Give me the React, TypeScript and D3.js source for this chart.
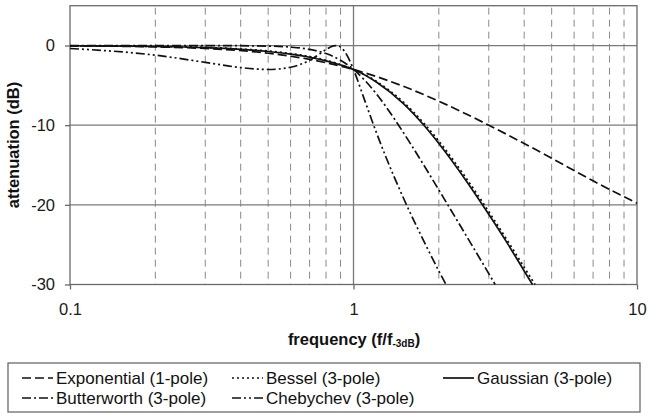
import {useEffect, useRef} from 'react';
import * as d3 from 'd3';

// values (attenuation in dB vs f/f-3dB)
const expFreq = [0.1, 0.2, 0.3, 0.5, 0.7, 1, 1.5, 2, 3, 4, 5, 7, 10];
const expDb = [-0.04, -0.17, -0.37, -0.97, -1.74, -3.01, -5.12, -6.99, -10.0, -12.3, -14.15, -16.99, -19.8];

const besselFreq = [0.1, 0.2, 0.3, 0.4, 0.5, 0.6, 0.7, 0.8, 0.9, 1, 1.2, 1.5, 1.79, 2, 2.5, 2.9, 3.5, 4, 4.37];
const besselDb = [-0.03, -0.11, -0.24, -0.44, -0.69, -1.01, -1.39, -1.85, -2.39, -3.01, -4.47, -7.12, -9.94, -12.0, -16.68, -20.06, -24.56, -27.85, -30];

const gaussFreq = [0.1, 0.2, 0.3, 0.4, 0.5, 0.6, 0.7, 0.8, 0.9, 1, 1.2, 1.5, 1.79, 2, 2.5, 2.9, 3.5, 4, 4.28];
const gaussDb = [-0.03, -0.12, -0.27, -0.48, -0.75, -1.08, -1.47, -1.93, -2.44, -3.01, -4.55, -7.3, -10.2, -12.3, -17.0, -20.4, -24.9, -28.3, -30];

const butterFreq = [0.1, 0.3, 0.5, 0.6, 0.7, 0.8, 0.9, 1, 1.1, 1.2, 1.4, 1.6, 1.8, 2, 2.5, 3, 3.16];
const butterDb = [0, -0.003, -0.07, -0.2, -0.48, -1.01, -1.85, -3.01, -4.43, -6.0, -9.31, -12.5, -15.44, -18.13, -23.89, -28.63, -30];

const chebyFreq = [0.1, 0.2, 0.3, 0.4, 0.5, 0.6, 0.7, 0.75, 0.8, 0.85, 0.866, 0.9, 0.95, 1, 1.1, 1.2, 1.3, 1.5, 1.8, 2, 2.12];
const chebyDb = [-0.37, -1.21, -2.11, -2.77, -3.01, -2.73, -1.85, -1.19, -0.51, -0.04, 0, -0.2, -1.26, -3.01, -7.07, -10.78, -13.96, -19.14, -25.08, -28.31, -30];

const yTicks = [0, -10, -20, -30];
const xTicks = [0.1, 1, 10];
const minorX = [0.2, 0.3, 0.4, 0.5, 0.6, 0.7, 0.8, 0.9, 2, 3, 4, 5, 6, 7, 8, 9];

const series = [
    {name: 'Exponential (1-pole)', f: expFreq, db: expDb, dash: '9,4'},
    {name: 'Bessel (3-pole)', f: besselFreq, db: besselDb, dash: '2,3'},
    {name: 'Gaussian (3-pole)', f: gaussFreq, db: gaussDb, dash: null},
    {name: 'Butterworth (3-pole)', f: butterFreq, db: butterDb, dash: '9,3,2,3'},
    {name: 'Chebychev (3-pole)', f: chebyFreq, db: chebyDb, dash: '9,3,2,3,2,3'},
];

const App = () => {
    const ref = useRef(null);

    useEffect(() => {
        const width = 649;
        const height = 413;
        const left = 70, right = 637, top = 5.7, bottom = 284.5;
        const font = '"Liberation Sans", Arial, sans-serif';

        d3.select(ref.current).selectAll('*').remove();

        const svg = d3.select(ref.current)
            .append('svg')
            .attr('width', width)
            .attr('height', height)
            .style('position', 'absolute')
            .style('left', 0)
            .style('top', 0)
            .style('background', '#fff');

        const x = d3.scaleLog().domain([0.1, 10]).range([left, right]);
        const y = d3.scaleLinear().domain([-30, 5]).range([bottom, top]);

        // minor dashed verticals
        svg.append('g')
            .selectAll('line')
            .data(minorX)
            .enter().append('line')
            .attr('x1', d => x(d)).attr('x2', d => x(d))
            .attr('y1', top + 2).attr('y2', bottom)
            .attr('stroke', '#8a8a8a')
            .attr('stroke-width', 1)
            .attr('stroke-dasharray', '7,5');

        // major grid
        svg.append('g')
            .selectAll('line')
            .data(yTicks.slice(0, 3))
            .enter().append('line')
            .attr('x1', left).attr('x2', right)
            .attr('y1', d => y(d)).attr('y2', d => y(d))
            .attr('stroke', '#7a7a7a')
            .attr('stroke-width', 1.3);

        svg.append('line')
            .attr('x1', x(1)).attr('x2', x(1))
            .attr('y1', top).attr('y2', bottom)
            .attr('stroke', '#7a7a7a')
            .attr('stroke-width', 1.3);

        // frame
        svg.append('rect')
            .attr('x', left).attr('y', top)
            .attr('width', right - left).attr('height', bottom - top)
            .attr('fill', 'none')
            .attr('stroke', '#6a6a6a')
            .attr('stroke-width', 1.3);

        // axes
        const yAxis = d3.axisLeft(y).tickValues(yTicks).tickSize(5).tickPadding(10)
            .tickFormat(d => String(d));
        const gy = svg.append('g').attr('transform', `translate(${left},0)`).call(yAxis);
        const xAxis = d3.axisBottom(x).tickValues(xTicks).tickSize(5).tickPadding(14)
            .tickFormat(d => String(d));
        const gx = svg.append('g').attr('transform', `translate(0,${bottom})`).call(xAxis);
        [gx, gy].forEach(g => {
            g.select('.domain').remove();
            g.selectAll('line').attr('stroke', '#6a6a6a').attr('stroke-width', 1.3);
            g.selectAll('text')
                .style('font-family', font)
                .style('font-size', '16.5px')
                .attr('fill', '#1a1a1a');
        });

        // curves
        const line = d3.line<[number, number]>()
            .x(d => x(d[0]))
            .y(d => y(d[1]))
            .curve(d3.curveMonotoneX);

        series.forEach(s => {
            const pts: [number, number][] = s.f.map((f, i) => [f, s.db[i]]);
            svg.append('path')
                .attr('d', line(pts))
                .attr('fill', 'none')
                .attr('stroke', '#111')
                .attr('stroke-width', s.dash === '2,3' ? 1.8 : 1.7)
                .attr('stroke-dasharray', s.dash);
        });

        // axis titles
        const xt = svg.append('text')
            .attr('x', 354).attr('y', 345)
            .attr('text-anchor', 'middle')
            .style('font-family', font)
            .style('font-size', '16.5px')
            .style('font-weight', 'bold')
            .attr('fill', '#111');
        xt.append('tspan').text('frequency (f/f');
        xt.append('tspan').attr('dy', 2).style('font-size', '10px').text('-3dB');
        xt.append('tspan').attr('dy', -2).text(')');

        svg.append('text')
            .attr('transform', 'translate(19,145) rotate(-90)')
            .attr('text-anchor', 'middle')
            .style('font-family', font)
            .style('font-size', '16.5px')
            .style('font-weight', 'bold')
            .attr('fill', '#111')
            .text('attenuation (dB)');

        // legend
        svg.append('rect')
            .attr('x', 8).attr('y', 363)
            .attr('width', 632).attr('height', 49)
            .attr('fill', '#fff')
            .attr('stroke', '#6a6a6a')
            .attr('stroke-width', 1.3);

        const legendPos = [
            {lx: 22, ly: 378}, {lx: 232, ly: 378}, {lx: 443, ly: 378},
            {lx: 22, ly: 398}, {lx: 232, ly: 398},
        ];
        series.forEach((s, i) => {
            const {lx, ly} = legendPos[i];
            svg.append('line')
                .attr('x1', lx).attr('x2', lx + 31)
                .attr('y1', ly).attr('y2', ly)
                .attr('stroke', '#111')
                .attr('stroke-width', 1.7)
                .attr('stroke-dasharray', s.dash);
            svg.append('text')
                .attr('x', lx + 34).attr('y', ly + 6)
                .style('font-family', font)
                .style('font-size', '17px')
                .attr('fill', '#111')
                .text(s.name);
        });
    }, []);

    return <div ref={ref}></div>;
};

export default App;
